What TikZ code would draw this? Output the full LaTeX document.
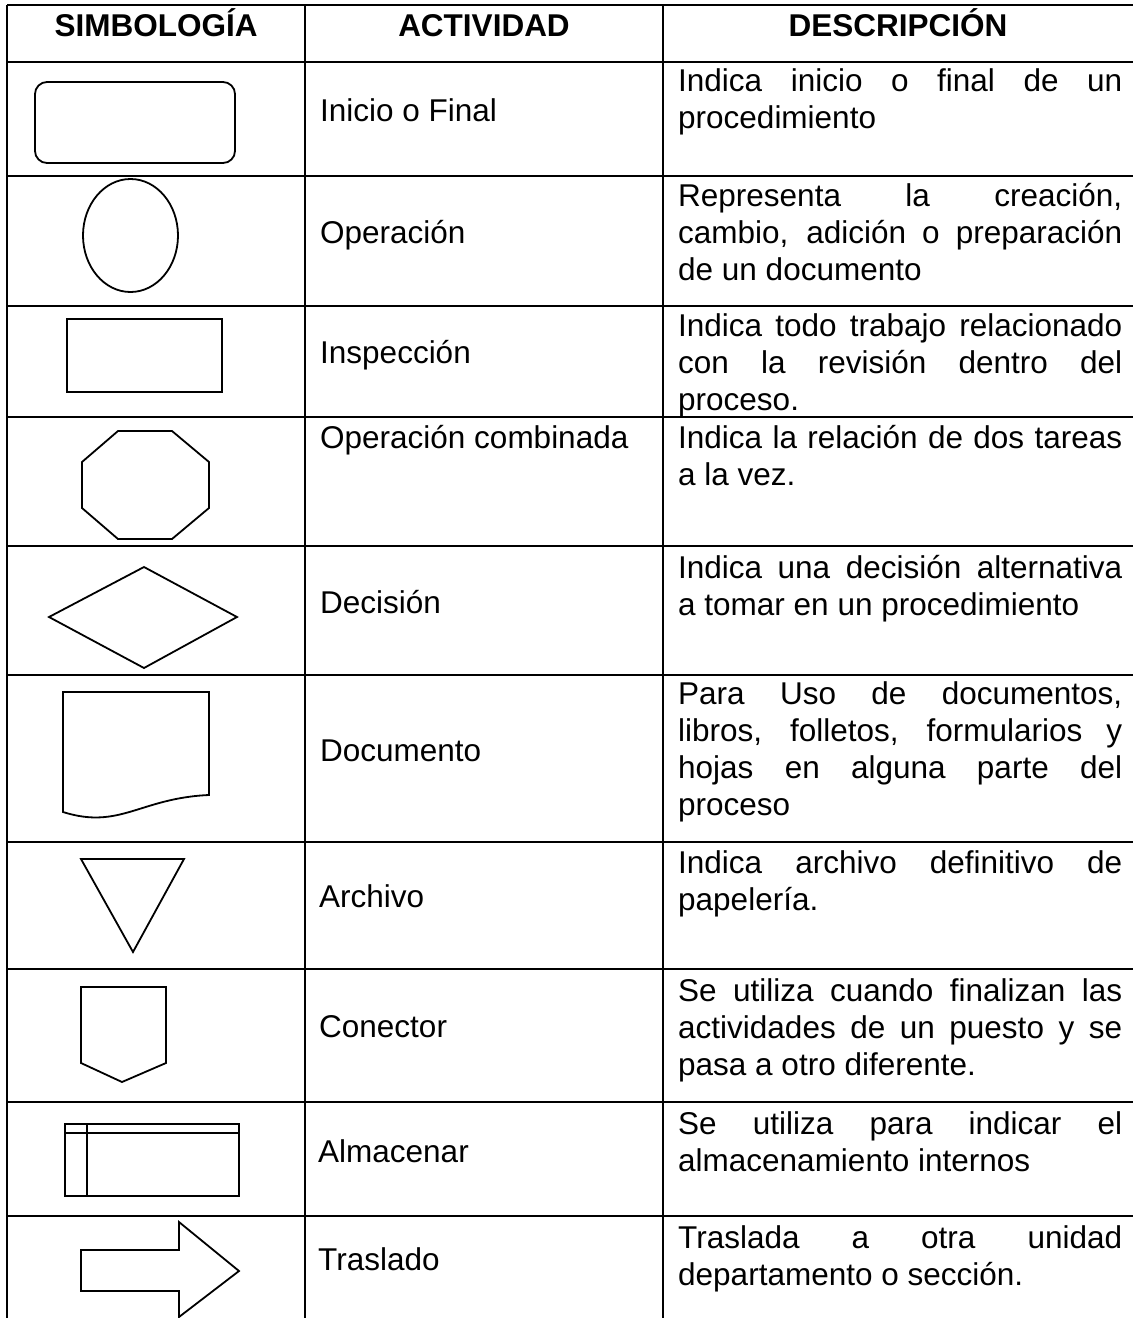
\documentclass[tikz,border=0pt]{standalone}
\usepackage{fontspec}
\setmainfont{Liberation Sans}
\tolerance=10000 \hbadness=10000 \hyphenpenalty=10000 \exhyphenpenalty=10000
\begin{document}
\begin{tikzpicture}[x=1pt,y=-1pt,
  hline/.style={line width=1.8pt},
  vline/.style={line width=1.2pt},
  shp/.style={line width=1.8pt, line join=miter},
  head/.style={anchor=base, font=\fontsize{31.5}{37}\selectfont\bfseries, inner sep=0pt},
  act/.style={anchor=base west, font=\fontsize{31.5}{37}\selectfont, inner sep=0pt},
  desc/.style={anchor=base west, text width=444pt, align=justify, font=\fontsize{31.5}{37}\selectfont, inner sep=0pt}]
\useasboundingbox (0,0) rectangle (1133,1318);
\fill[white] (0,0) rectangle (1133,1318);
% table lines
\foreach \y in {5,62,176,306,417,546,675,842,969,1102,1216}
  \draw[hline] (7,\y) -- (1133,\y);
\foreach \x in {7,305,663}
  \draw[vline] (\x,5) -- (\x,1318);
% header
\node[head] (h1) at (156,36.5) {SIMBOLOGÍA};
\node[head] (h2) at (484,36.5) {ACTIVIDAD};
\node[head] (h3) at (898,36.5) {DESCRIPCIÓN};
% symbols
\draw[shp, rounded corners=12pt] (35,82) rectangle (235,163);
\draw[shp] (130.5,235.5) ellipse [x radius=47.5pt, y radius=56.5pt];
\draw[shp] (67,319) rectangle (222,392);
\draw[shp] (118,431) -- (172,431) -- (209,462) -- (209,508) -- (172,539) -- (118,539) -- (82,508) -- (82,462) -- cycle;
\draw[shp] (49,617) -- (144,567) -- (237,617) -- (144,668) -- cycle;
\draw[shp] (63,812) -- (63,692) -- (209,692) -- (209,795) .. controls (140,798) and (120,830) .. (63,812) -- cycle;
\draw[shp] (81,859) -- (184,859) -- (133,952) -- cycle;
\draw[shp] (81,987) -- (166,987) -- (166,1063) -- (122,1082) -- (81,1063) -- cycle;
\draw[shp] (65,1124) rectangle (239,1196);
\draw[shp] (65,1133) -- (239,1133);
\draw[shp] (87,1124) -- (87,1196);
\draw[shp] (81,1250) -- (179,1250) -- (179,1222) -- (239,1271) -- (179,1317) -- (179,1291) -- (81,1291) -- cycle;
% activities
\node[act] (a1) at (320,121) {Inicio o Final};
\node[act] (a2) at (320,243) {Operación};
\node[act] (a3) at (320,363) {Inspección};
\node[act] (a4) at (320,448) {Operación combinada};
\node[act] (a5) at (320,613) {Decisión};
\node[act] (a6) at (320,761) {Documento};
\node[act] (a7) at (319,907) {Archivo};
\node[act] (a8) at (319,1037) {Conector};
\node[act] (a9) at (318,1162) {Almacenar};
\node[act] (a10) at (318,1270) {Traslado};
% descriptions
\node[desc] (d1) at (678,91) {Indica inicio o final de un\linebreak procedimiento};
\node[desc] (d2) at (678,206) {Representa la creación,\linebreak cambio, adición o preparación\linebreak de un documento};
\node[desc] (d3) at (678,336) {Indica todo trabajo relacionado\linebreak con la revisión dentro del\linebreak proceso.};
\node[desc] (d4) at (678,448) {Indica la relación de dos tareas\linebreak a la vez.};
\node[desc] (d5) at (678,578) {Indica una decisión alternativa\linebreak a tomar en un procedimiento};
\node[desc] (d6) at (678,704) {Para Uso de documentos,\linebreak libros, folletos, formularios y\linebreak hojas en alguna parte del\linebreak proceso};
\node[desc] (d7) at (678,873) {Indica archivo definitivo de\linebreak papelería.};
\node[desc] (d8) at (678,1001) {Se utiliza cuando finalizan las\linebreak actividades de un puesto y se\linebreak pasa a otro diferente.};
\node[desc] (d9) at (678,1134) {Se utiliza para indicar el\linebreak almacenamiento internos};
\node[desc] (d10) at (678,1248) {Traslada a otra unidad\linebreak departamento o sección.};
\end{tikzpicture}
\end{document}
